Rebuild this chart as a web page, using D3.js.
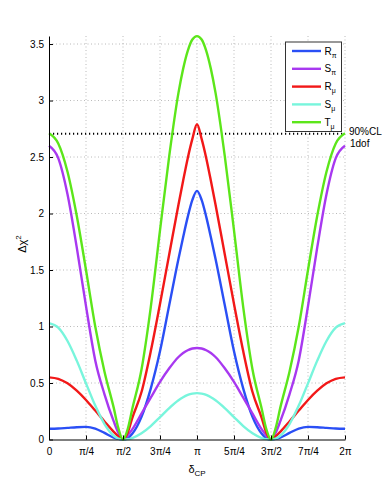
<!DOCTYPE html>
<html><head><meta charset="utf-8">
<script src="https://cdn.jsdelivr.net/npm/d3@7"></script>
<style>body{margin:0;background:#fff}svg{display:block}</style>
</head><body>
<svg id="c" width="382" height="494"></svg>
<script>
// delta_CP in units of pi
const deltaOverPi = [0, 0.0625, 0.125, 0.1875, 0.25, 0.3125, 0.375, 0.4375, 0.46875, 0.5, 0.53125, 0.5625, 0.625, 0.6875, 0.75, 0.8125, 0.875, 0.90625, 0.9375, 0.96875, 1,
  1.03125, 1.0625, 1.09375, 1.125, 1.1875, 1.25, 1.3125, 1.375, 1.4375, 1.46875, 1.5, 1.53125, 1.5625, 1.625, 1.6875, 1.75, 1.8125, 1.875, 1.9375, 2];
const R_pi = [0.095, 0.097, 0.103, 0.109, 0.112, 0.097, 0.058, 0.017, 0.005, 0, 0.01, 0.05, 0.2, 0.45, 0.78, 1.19, 1.6, 1.79, 1.97, 2.12, 2.2,
  2.12, 1.97, 1.79, 1.6, 1.19, 0.78, 0.45, 0.2, 0.05, 0.01, 0, 0.005, 0.017, 0.058, 0.097, 0.112, 0.109, 0.103, 0.097, 0.095];
const S_pi = [2.6, 2.49, 2.17, 1.70, 1.18, 0.70, 0.40, 0.16, 0.06, 0, 0.037, 0.09, 0.23, 0.37, 0.51, 0.63, 0.73, 0.765, 0.79, 0.805, 0.81,
  0.805, 0.79, 0.765, 0.73, 0.63, 0.51, 0.37, 0.23, 0.09, 0.037, 0, 0.06, 0.16, 0.40, 0.70, 1.18, 1.70, 2.17, 2.49, 2.6];
const R_mu = [0.55, 0.537, 0.497, 0.432, 0.35, 0.256, 0.16, 0.068, 0.028, 0, 0.06, 0.19, 0.42, 0.78, 1.2, 1.64, 2.08, 2.29, 2.49, 2.66, 2.79,
  2.66, 2.49, 2.29, 2.08, 1.64, 1.2, 0.78, 0.42, 0.19, 0.06, 0, 0.028, 0.068, 0.16, 0.256, 0.35, 0.432, 0.497, 0.537, 0.55];
const S_mu = [1.03, 0.99, 0.872, 0.698, 0.497, 0.30, 0.137, 0.033, 0.008, 0, 0.003, 0.013, 0.055, 0.119, 0.198, 0.278, 0.347, 0.374, 0.394, 0.406, 0.41,
  0.406, 0.394, 0.374, 0.347, 0.278, 0.198, 0.119, 0.055, 0.013, 0.003, 0, 0.008, 0.033, 0.137, 0.30, 0.497, 0.698, 0.872, 0.99, 1.03];
const T_mu = [2.71, 2.62, 2.37, 1.98, 1.50, 1.00, 0.60, 0.28, 0.10, 0, 0.09, 0.27, 0.62, 1.17, 1.85, 2.51, 3.07, 3.28, 3.44, 3.54, 3.57,
  3.54, 3.44, 3.28, 3.07, 2.51, 1.85, 1.17, 0.62, 0.27, 0.09, 0, 0.10, 0.28, 0.60, 1.00, 1.50, 1.98, 2.37, 2.62, 2.71];

const seriesLetters = ["R", "S", "R", "S", "T"];
const seriesSubs = ["π", "π", "μ", "μ", "μ"];
const seriesColors = ["#2a4ff5", "#a838f0", "#f21818", "#78f5dc", "#5ce61a"];
const seriesValues = [R_pi, S_pi, R_mu, S_mu, T_mu];

const xTickValues = [0, 0.25, 0.5, 0.75, 1, 1.25, 1.5, 1.75, 2];
const xTickLabels = ["0", "π/4", "π/2", "3π/4", "π", "5π/4", "3π/2", "7π/4", "2π"];
const yTickValues = [0, 0.5, 1, 1.5, 2, 2.5, 3, 3.5];
const yTickLabels = ["0", "0.5", "1", "1.5", "2", "2.5", "3", "3.5"];
const clLevel = 2.706;
const clLabels = ["90%CL", "1dof"];

const svg = d3.select("#c");
const font = "'Liberation Sans', Arial, Helvetica, sans-serif";
const x = d3.scaleLinear().domain([0, 2]).range([49, 345]);
const y = d3.scaleLinear().domain([0, 3.571]).range([439.5, 36]);

// grid
const grid = svg.append("g").attr("stroke", "#a8a8a8").attr("stroke-width", 0.8).attr("stroke-dasharray", "1,2.5");
grid.selectAll("line.gx").data(xTickValues.slice(1)).join("line")
  .attr("x1", d => x(d)).attr("x2", d => x(d)).attr("y1", y.range()[0]).attr("y2", y.range()[1]);
grid.selectAll("line.gy").data(yTickValues.slice(1)).join("line")
  .attr("x1", x.range()[0]).attr("x2", x.range()[1]).attr("y1", d => y(d)).attr("y2", d => y(d));

// CL line
svg.append("line").attr("x1", x(0)).attr("x2", x(2)).attr("y1", y(clLevel)).attr("y2", y(clLevel))
  .attr("stroke", "#000").attr("stroke-width", 2).attr("stroke-dasharray", "1.2,2.8");

// curves
const line = d3.line().x((d, i) => x(deltaOverPi[i])).y(d => y(d)).curve(d3.curveMonotoneX);
seriesValues.forEach((vals, k) => {
  svg.append("path").attr("d", line(vals)).attr("fill", "none")
    .attr("stroke", seriesColors[k]).attr("stroke-width", 2.4).attr("stroke-linejoin", "round");
});

// axes
const xAxis = d3.axisBottom(x).tickValues(xTickValues).tickFormat((d, i) => xTickLabels[i]).tickSizeInner(-4).tickSizeOuter(0).tickPadding(8);
const gx = svg.append("g").attr("transform", `translate(0,${y(0)})`).call(xAxis);
const yAxis = d3.axisLeft(y).tickValues(yTickValues).tickFormat((d, i) => yTickLabels[i]).tickSizeInner(-4).tickSizeOuter(0).tickPadding(8);
const gy = svg.append("g").attr("transform", `translate(${x(0)},0)`).call(yAxis);
[gx, gy].forEach(g => {
  g.select(".domain").attr("stroke", "#000").attr("stroke-width", 1);
  g.selectAll(".tick line").attr("stroke", "#000");
  g.selectAll("text").attr("font-family", font).attr("font-size", 10).attr("fill", "#000");
});
gy.selectAll(".tick text").attr("x", -5);
gx.selectAll(".tick text").attr("y", 8);

// axis titles
const xt = svg.append("text").attr("x", 197).attr("y", 473).attr("text-anchor", "middle")
  .attr("font-family", font).attr("font-size", 11);
xt.append("tspan").text("δ");
xt.append("tspan").attr("font-size", 8).attr("dy", 3).text("CP");

const yt = svg.append("text").attr("transform", "translate(26,244) rotate(-90)").attr("text-anchor", "middle")
  .attr("font-family", font).attr("font-size", 11);
yt.append("tspan").text("Δχ");
yt.append("tspan").attr("font-size", 8).attr("dy", -5).text("2");

// CL labels
svg.append("text").attr("x", 349).attr("y", 135).attr("font-family", font).attr("font-size", 10).text(clLabels[0]);
svg.append("text").attr("x", 350).attr("y", 147).attr("font-family", font).attr("font-size", 10).text(clLabels[1]);

// legend
const lg = svg.append("g");
lg.append("rect").attr("x", 285.5).attr("y", 42).attr("width", 56).attr("height", 89.5)
  .attr("fill", "#fff").attr("stroke", "#333").attr("stroke-width", 1);
seriesLetters.forEach((t, k) => {
  const ly = 51 + k * 17.8;
  lg.append("line").attr("x1", 292).attr("x2", 321).attr("y1", ly).attr("y2", ly)
    .attr("stroke", seriesColors[k]).attr("stroke-width", 2.4);
  const tx = lg.append("text").attr("x", 324.5).attr("y", ly + 3.5).attr("font-family", font).attr("font-size", 10);
  tx.append("tspan").text(t);
  tx.append("tspan").attr("font-size", 7).attr("dy", 3).text(seriesSubs[k]);
});
</script>
</body></html>
